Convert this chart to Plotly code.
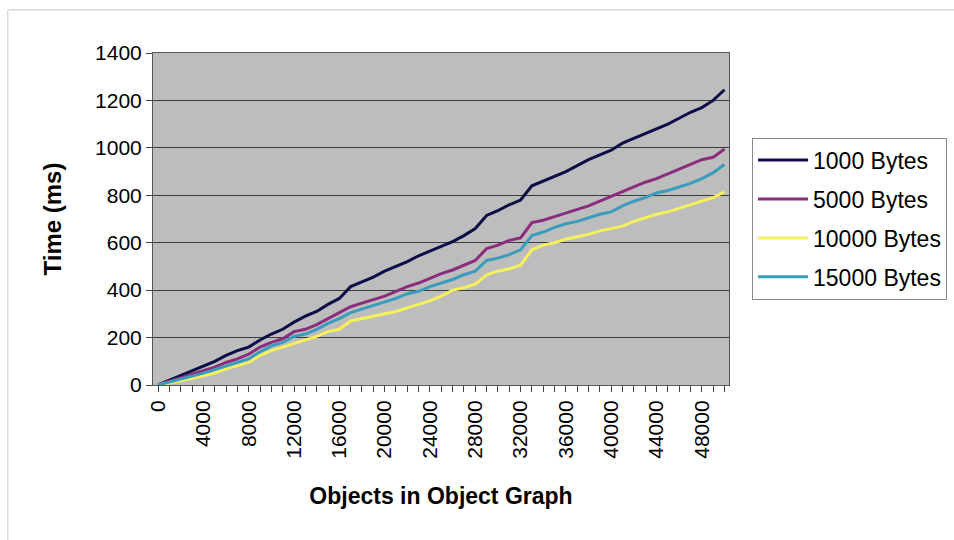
import plotly.graph_objects as go

# Number of objects in the serialized object graph (one sample per 1000 objects)
objects = list(range(0, 51000, 1000))

# Serialization time in ms for each payload size
time_1000 = [0, 20, 40, 58, 80, 100, 125, 145, 160, 190, 215, 235, 265, 290, 310, 340,
             365, 415, 435, 455, 480, 500, 520, 545, 565, 585, 605, 630, 660, 715, 735,
             760, 780, 840, 860, 880, 900, 925, 950, 970, 990, 1020, 1040, 1060, 1080,
             1100, 1125, 1150, 1170, 1200, 1245]
time_5000 = [0, 15, 30, 45, 58, 75, 95, 110, 130, 160, 180, 195, 225, 235, 255, 280,
             305, 330, 345, 360, 375, 395, 415, 430, 450, 470, 485, 505, 525, 575, 590,
             610, 620, 685, 695, 710, 725, 740, 755, 775, 795, 815, 835, 855, 870,
             890, 910, 930, 950, 960, 995]
time_10000 = [0, 8, 18, 28, 38, 50, 68, 80, 95, 125, 145, 160, 175, 190, 205, 225,
              235, 270, 280, 290, 300, 310, 325, 340, 355, 375, 400, 410, 425, 465, 480,
              490, 505, 570, 590, 600, 615, 625, 635, 650, 660, 670, 690, 705, 720,
              730, 745, 760, 775, 790, 815]
time_15000 = [0, 12, 25, 38, 50, 65, 80, 95, 110, 140, 165, 180, 205, 215, 235, 260,
              280, 305, 320, 335, 350, 365, 385, 395, 415, 430, 445, 465, 480, 525, 535,
              550, 570, 630, 645, 665, 680, 690, 705, 720, 730, 755, 775, 790, 810,
              820, 835, 850, 870, 895, 930]

series_names = ["1000 Bytes", "5000 Bytes", "10000 Bytes", "15000 Bytes"]
series_values = [time_1000, time_5000, time_10000, time_15000]
series_colors = ["#0d0d48", "#8c2c7c", "#f6f05a", "#3a9cbd"]

x_tick_values = list(range(0, 49000, 4000))
y_tick_values = list(range(0, 1600, 200))

FONT = "Liberation Sans, Arial, sans-serif"

fig = go.Figure()
for name, values, color in zip(series_names, series_values, series_colors):
    fig.add_trace(go.Scatter(
        x=objects, y=values, name=name, mode="lines",
        line=dict(color=color, width=3),
        legendgroup=name,
    ))

fig.update_layout(
    width=954, height=540,
    margin=dict(l=153, r=225, t=53, b=155, autoexpand=False),
    paper_bgcolor="white",
    plot_bgcolor="#bdbdbd",
    font=dict(family=FONT, color="black", size=20),
    showlegend=True,
    legend=dict(
        x=1.04, y=0.745, xanchor="left", yanchor="top",
        bordercolor="#8a8a8a", borderwidth=1, bgcolor="white",
        font=dict(family=FONT, size=23, color="black"),
        tracegroupgap=6,
        itemwidth=50,
    ),
    xaxis=dict(
        range=[-450, 50400],
        tickvals=x_tick_values,
        ticktext=[str(v) for v in x_tick_values],
        tickangle=-90,
        ticks="outside", ticklen=6, tickcolor="#404040",
        minor=dict(dtick=1000, tick0=0, ticks="outside", ticklen=6, tickcolor="#404040"),
        showgrid=False,
        showline=True, linecolor="#555555", linewidth=1, mirror=True,
        zeroline=False,
        tickfont=dict(size=21),
        title=dict(text="<b>Objects in Object Graph</b>", font=dict(size=23), standoff=30),
    ),
    yaxis=dict(
        range=[0, 1400],
        tickvals=y_tick_values,
        ticks="outside", ticklen=6, tickcolor="#404040",
        showgrid=True, gridcolor="#3c3c3c", gridwidth=1,
        showline=True, linecolor="#555555", linewidth=1, mirror=True,
        zeroline=False,
        tickfont=dict(size=21),
        title=dict(text="<b>Time (ms)</b>", font=dict(size=24), standoff=26),
    ),
    shapes=[dict(
        type="rect", xref="paper", yref="paper",
        x0=-0.252, x1=1.5, y0=-0.6, y1=1.13,
        line=dict(color="#c8c8c8", width=1), fillcolor="rgba(0,0,0,0)",
        layer="below",
    )],
)

fig.write_html("out.html")
